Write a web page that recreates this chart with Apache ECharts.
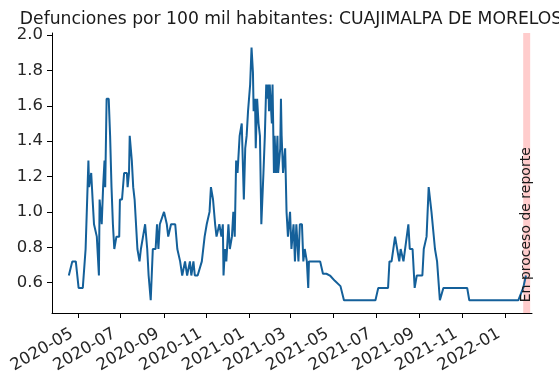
<!DOCTYPE html>
<html>
<head>
<meta charset="utf-8">
<script src="https://cdn.jsdelivr.net/npm/echarts@6/dist/echarts.min.js"></script>
<style>
html,body{margin:0;padding:0;background:#fff;}
#c{width:559px;height:379px;}
</style>
</head>
<body>
<div id="c"></div>
<script>
var titleText = 'Defunciones por 100 mil habitantes: CUAJIMALPA DE MORELOS';
var bandLabel = 'En proceso de reporte';
var dates = [
'2020-04-18','2020-04-23','2020-04-28','2020-05-02','2020-05-08','2020-05-12','2020-05-16','2020-05-17','2020-05-20','2020-05-22',
'2020-05-24','2020-05-28','2020-05-31','2020-06-01','2020-06-04','2020-06-06','2020-06-08','2020-06-09','2020-06-11','2020-06-14',
'2020-06-16','2020-06-18','2020-06-20','2020-06-22','2020-06-25','2020-06-29','2020-06-30','2020-07-03','2020-07-06','2020-07-10',
'2020-07-11','2020-07-13','2020-07-14','2020-07-17','2020-07-19','2020-07-21','2020-07-25','2020-07-28','2020-07-30','2020-08-02',
'2020-08-05','2020-08-08','2020-08-10','2020-08-13','2020-08-16','2020-08-20','2020-08-22','2020-08-24','2020-08-26','2020-09-01',
'2020-09-05','2020-09-07','2020-09-11','2020-09-17','2020-09-20','2020-09-24','2020-09-27','2020-10-01','2020-10-04','2020-10-08',
'2020-10-10','2020-10-13','2020-10-15','2020-10-19','2020-10-25','2020-10-29','2020-11-01','2020-11-05','2020-11-07','2020-11-10',
'2020-11-13','2020-11-15','2020-11-19','2020-11-22','2020-11-24','2020-11-25','2020-11-27','2020-11-29','2020-12-02','2020-12-04',
'2020-12-07','2020-12-09','2020-12-11','2020-12-13','2020-12-15','2020-12-16','2020-12-18','2020-12-21','2020-12-22','2020-12-24',
'2020-12-26','2020-12-28','2020-12-30','2021-01-02','2021-01-04','2021-01-06','2021-01-07','2021-01-09','2021-01-10','2021-01-12',
'2021-01-14','2021-01-16','2021-01-18','2021-01-21','2021-01-23','2021-01-25','2021-01-26','2021-01-28','2021-01-29','2021-01-30',
'2021-02-02','2021-02-03','2021-02-05','2021-02-06','2021-02-08','2021-02-10','2021-02-11','2021-02-14','2021-02-15','2021-02-16',
'2021-02-18','2021-02-21','2021-02-23','2021-02-25','2021-02-28','2021-03-02','2021-03-05','2021-03-07','2021-03-09','2021-03-12',
'2021-03-14','2021-03-17','2021-03-19','2021-03-21','2021-03-24','2021-03-26','2021-03-27','2021-04-07','2021-04-12','2021-04-16',
'2021-04-21','2021-04-26','2021-05-03','2021-05-11','2021-05-16','2021-06-30','2021-07-04','2021-07-18','2021-07-20','2021-07-23',
'2021-07-28','2021-07-30','2021-08-03','2021-08-05','2021-08-09','2021-08-11','2021-08-16','2021-08-18','2021-08-22','2021-08-25',
'2021-08-28','2021-09-05','2021-09-07','2021-09-11','2021-09-14','2021-09-18','2021-09-23','2021-09-26','2021-09-30','2021-10-05',
'2021-11-08','2021-11-11','2022-01-20','2022-01-27','2022-01-31'
];
var values = [
0.64,0.72,0.72,0.57,0.57,0.79,1.29,1.14,1.22,1.07,
0.93,0.86,0.64,1.07,0.93,1.14,1.29,1.14,1.64,1.64,
1.43,1.14,0.93,0.79,0.86,0.86,1.07,1.07,1.22,1.22,
1.14,1.22,1.43,1.29,1.14,1.07,0.79,0.72,0.79,0.86,
0.93,0.79,0.64,0.50,0.79,0.79,0.93,0.79,0.93,1.00,
0.93,0.86,0.93,0.93,0.79,0.72,0.64,0.72,0.64,0.72,
0.64,0.72,0.64,0.64,0.72,0.86,0.93,1.00,1.14,1.07,
0.93,0.86,0.93,0.86,0.93,0.64,0.79,0.72,0.93,0.79,
0.86,1.00,0.86,1.29,1.22,1.29,1.43,1.50,1.36,1.07,
1.36,1.43,1.57,1.72,1.93,1.79,1.57,1.64,1.36,1.64,
1.50,1.43,0.93,1.22,1.43,1.72,1.64,1.72,1.57,1.72,
1.50,1.72,1.22,1.43,1.22,1.43,1.22,1.36,1.64,1.43,
1.22,1.36,1.00,0.86,1.00,0.79,0.93,0.72,0.93,0.72,
0.93,0.93,0.72,0.79,0.72,0.57,0.72,0.72,0.72,0.65,
0.65,0.64,0.61,0.58,0.50,0.50,0.57,0.57,0.72,0.72,
0.86,0.86,0.72,0.79,0.72,0.72,0.93,0.79,0.79,0.57,
0.64,0.64,0.79,0.86,1.14,1.00,0.79,0.72,0.50,0.57,
0.57,0.50,0.50,0.57,0.64
];
var yTicks = [0.6, 0.8, 1.0, 1.2, 1.4, 1.6, 1.8, 2.0];
var xTicks = ['2020-05-01','2020-07-01','2020-09-01','2020-11-01','2021-01-01','2021-03-01','2021-05-01','2021-07-01','2021-09-01','2021-11-01','2022-01-01'];
var xRange = ['2020-03-25', '2022-02-08 14:00'];
var yRange = [0.428, 2.012];
var band = ['2022-01-27', '2022-02-06'];

function ts(s){
  var p = s.split(' ');
  var d = p[0].split('-');
  var h = p[1] ? parseInt(p[1].split(':')[0], 10) : 0;
  return Date.UTC(+d[0], +d[1] - 1, +d[2], h);
}
function pad(n){ return n < 10 ? '0' + n : '' + n; }

var seriesData = dates.map(function(d, i){ return [ts(d), values[i]]; });
var xTickVals = xTicks.map(ts);
var txtColor = '#262626';

var chart = echarts.init(document.getElementById('c'), null, {renderer: 'canvas'});
chart.setOption({
  animation: false,
  backgroundColor: '#ffffff',
  title: {
    text: titleText,
    left: 286, top: 6, textAlign: 'center',
    textStyle: {fontFamily: 'DejaVu Sans', fontSize: 17.2, fontWeight: 'normal', color: '#1a1a1a'}
  },
  grid: {left: 52, right: 27, top: 33, bottom: 66, containLabel: false},
  xAxis: {
    type: 'value',
    min: ts(xRange[0]), max: ts(xRange[1]),
    splitLine: {show: false},
    axisLine: {show: true, onZero: false, lineStyle: {color: '#000', width: 1}},
    axisTick: {show: true, length: 5, lineStyle: {color: '#000'}, customValues: xTickVals},
    axisLabel: {
      rotate: 30, margin: 16, padding: [0, 7, 0, 0], color: txtColor, fontFamily: 'DejaVu Sans', fontSize: 16.5,
      customValues: xTickVals,
      formatter: function(v){ var d = new Date(v); return d.getUTCFullYear() + '-' + pad(d.getUTCMonth() + 1); }
    }
  },
  yAxis: {
    type: 'value',
    min: yRange[0], max: yRange[1],
    splitLine: {show: false},
    axisLine: {show: true, lineStyle: {color: '#000', width: 1}},
    axisTick: {show: true, length: 5, lineStyle: {color: '#000'}, customValues: yTicks},
    axisLabel: {
      margin: 9, color: txtColor, fontFamily: 'DejaVu Sans', fontSize: 16.5,
      customValues: yTicks,
      formatter: function(v){ return v.toFixed(1); }
    }
  },
  series: [{
    type: 'line',
    data: seriesData,
    showSymbol: false,
    lineStyle: {color: '#14609a', width: 2},
    itemStyle: {color: '#14609a'},
    markArea: {
      silent: true,
      itemStyle: {color: 'rgba(255,0,0,0.2)'},
      data: [[{xAxis: ts(band[0])}, {xAxis: ts(band[1])}]]
    },
    z: 3
  }]
});

var cx = (chart.convertToPixel({xAxisIndex: 0}, ts(band[0])) + chart.convertToPixel({xAxisIndex: 0}, ts(band[1]))) / 2;
var by = chart.convertToPixel({yAxisIndex: 0}, 0.5);
chart.setOption({
  graphic: [{
    type: 'text',
    x: cx, y: by + 2,
    rotation: Math.PI / 2,
    z: 10,
    style: {
      text: bandLabel,
      fontFamily: 'DejaVu Sans', fontSize: 14,
      fill: '#1a1a1a',
      textAlign: 'left', textVerticalAlign: 'middle'
    }
  }]
});
</script>
</body>
</html>
